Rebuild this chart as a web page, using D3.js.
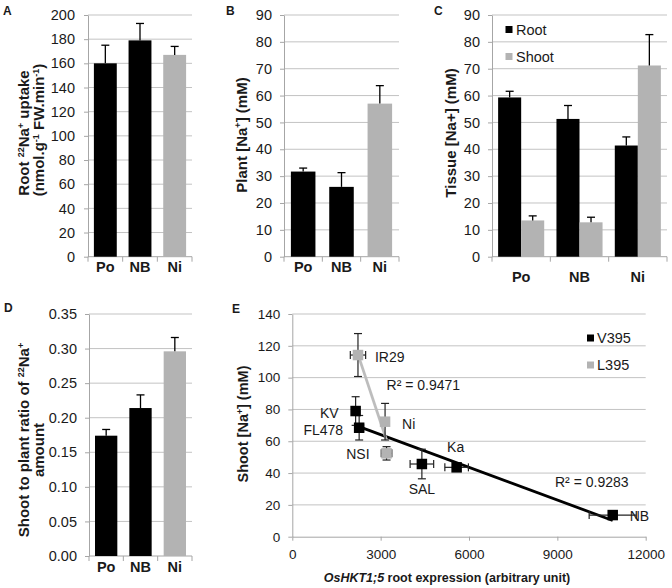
<!DOCTYPE html>
<html><head><meta charset="utf-8">
<script src="https://cdn.jsdelivr.net/npm/d3@7"></script>
<style>
body{margin:0;background:#fff}
text{font-family:"Liberation Sans",Arial,Helvetica,sans-serif}
</style>
</head><body><svg id="c" width="672" height="588"></svg>
<script>
// ---------- data ----------
const categories = ["Po","NB","Ni"];
const categoryAllele = ["V395","V395","L395"];

const uptakeA = [160,179,167];
const uptakeAErr = [15,14,7];
const ticksA = [0,20,40,60,80,100,120,140,160,180,200];

const plantNaB = [31.7,26,57];
const plantNaBErr = [1.3,5.3,6.7];
const ticksB = [0,10,20,30,40,50,60,70,80,90];

const tissueSeries = ["Root","Shoot"];
const rootNaC = [59.3,51.3,41.4];
const rootNaCErr = [2.3,5.0,3.2];
const shootNaC = [13.5,12.8,71.2];
const shootNaCErr = [1.7,1.9,11.5];
const ticksC = [0,10,20,30,40,50,60,70,80,90];

const ratioD = [0.174,0.214,0.296];
const ratioDErr = [0.009,0.019,0.020];
const ticksD = [0,0.05,0.10,0.15,0.20,0.25,0.30,0.35];

const cultivars = ["IR29","Ni","NSI","KV","FL478","SAL","Ka","NB"];
const cultivarAllele = ["L395","L395","L395","V395","V395","V395","V395","V395"];
const expressionE = [2230,3150,3200,2150,2270,4400,5580,10880];
const expressionEErr = [260,100,180,100,150,400,400,800];
const shootNaE = [114.2,72.3,52.4,79,68.5,45.7,43.6,13.6];
const shootNaEErr = [13.5,11.5,4.2,9,7.7,9.3,2,1.5];
const alleles = ["V395","L395"];
const rSquared = {V395:"R² = 0.9283", L395:"R² = 0.9471"};
const ticksEX = [0,3000,6000,9000,12000];
const ticksEY = [0,20,40,60,80,100,120,140];

// ---------- style ----------
const BLACK="#000", GRAY="#b3b3b3", GRID="#c3c3c3", AXIS="#a6a6a6", TXT="#1a1a1a";
const alleleColor = {V395:BLACK, L395:GRAY};
const svg = d3.select("#c");

function rich(sel, parts, size){
  let shift = 0;
  parts.forEach(p=>{
    const ts = sel.append("tspan").text(p.t);
    if(p.sup){ const tgt=-size*0.34; ts.attr("font-size",size*0.6).attr("dy",tgt-shift); shift=tgt; }
    else if(p.it){ ts.attr("font-style","italic"); if(shift){ts.attr("dy",-shift); shift=0;} }
    else if(shift){ ts.attr("dy",-shift); shift=0; }
  });
}

function yTitle(lines, size){
  lines.forEach(l=>{
    const t = svg.append("text").attr("transform",`translate(${l.x},${l.cy}) rotate(-90)`)
      .attr("text-anchor","middle").attr("font-weight","bold").attr("font-size",size).attr("fill",TXT);
    rich(t, l.parts, size);
  });
}

function letter(s,x,y){
  svg.append("text").attr("x",x).attr("y",y).attr("font-size",12).attr("font-weight","bold").attr("fill",TXT).text(s);
}

function barPanel(o){
  const g = svg.append("g");
  const x = d3.scaleBand().domain(categories).range([o.left,o.right]);
  const y = d3.scaleLinear().domain(d3.extent(o.ticks)).range([o.bottom,o.top]);
  g.append("g").selectAll("line").data(o.ticks.slice(1)).join("line")
    .attr("x1",o.left).attr("x2",o.right).attr("y1",d=>y(d)).attr("y2",d=>y(d))
    .attr("stroke",GRID);
  const ay = g.append("g").attr("transform",`translate(${o.left},0)`)
    .call(d3.axisLeft(y).tickValues(o.ticks).tickFormat(o.fmt).tickSize(4).tickSizeOuter(0).tickPadding(o.pad));
  ay.selectAll("path,line").attr("stroke",AXIS);
  ay.selectAll("text").attr("font-size",14.5).attr("fill",TXT).attr("font-family",'"Liberation Sans",Arial,sans-serif');
  g.append("line").attr("x1",o.left).attr("x2",o.right).attr("y1",o.bottom).attr("y2",o.bottom).attr("stroke",AXIS);
  const bounds = categories.map(c=>x(c)).concat([x.range()[1]]);
  g.append("g").selectAll("line").data(bounds).join("line")
    .attr("x1",d=>d).attr("x2",d=>d).attr("y1",o.bottom).attr("y2",o.bottom+5).attr("stroke",AXIS);
  g.append("g").selectAll("text").data(categories).join("text")
    .attr("x",d=>x(d)+x.bandwidth()/2).attr("y",o.bottom+o.catDy).attr("dy","0.35em")
    .attr("text-anchor","middle").attr("font-weight","bold").attr("font-size",14.5).attr("fill",TXT).text(d=>d);
  const bw = x.bandwidth()*o.barFrac;
  const n = o.series.length;
  o.series.forEach((s,si)=>{
    const bx = (c)=> x(c) + (x.bandwidth()-bw*n)/2 + si*bw;
    g.append("g").selectAll("rect").data(categories).join("rect")
      .attr("x",c=>bx(c)).attr("width",bw)
      .attr("y",(c,i)=>y(s.values[i])).attr("height",(c,i)=>y(0)-y(s.values[i]))
      .attr("fill",(c,i)=>s.color(i));
    const eg = g.append("g").attr("stroke","#000").attr("stroke-width",1.3);
    categories.forEach((c,i)=>{
      const cx = bx(c)+bw/2, v=s.values[i], e=s.errs[i];
      eg.append("line").attr("x1",cx).attr("x2",cx).attr("y1",y(v)).attr("y2",y(v+e));
      eg.append("line").attr("x1",cx-4).attr("x2",cx+4).attr("y1",y(v+e)).attr("y2",y(v+e));
    });
  });
  return {x,y};
}

// ---------- Panel A ----------
barPanel({left:88,right:192,top:15,bottom:256.7,ticks:ticksA,fmt:d3.format("d"),pad:9,catDy:10.5,barFrac:0.66,
  series:[{values:uptakeA,errs:uptakeAErr,color:i=>alleleColor[categoryAllele[i]]}]});
yTitle([
  {x:29,cy:133,parts:[{t:"Root "},{t:"22",sup:true},{t:"Na"},{t:"+",sup:true},{t:" uptake"}]},
  {x:44,cy:130,parts:[{t:"(nmol.g"},{t:"-1",sup:true},{t:" FW.min"},{t:"-1",sup:true},{t:")"}]}
],15);
letter("A",3,15);

// ---------- Panel B ----------
barPanel({left:284,right:399,top:15,bottom:256.7,ticks:ticksB,fmt:d3.format("d"),pad:8,catDy:10.5,barFrac:0.64,
  series:[{values:plantNaB,errs:plantNaBErr,color:i=>alleleColor[categoryAllele[i]]}]});
yTitle([{x:246.5,cy:135,parts:[{t:"Plant [Na"},{t:"+",sup:true},{t:"] (mM)"}]}],15);
letter("B",226,15);

// ---------- Panel C ----------
barPanel({left:492,right:667,top:15,bottom:256.7,ticks:ticksC,fmt:d3.format("d"),pad:8,catDy:20,barFrac:0.395,
  series:[{values:rootNaC,errs:rootNaCErr,color:()=>BLACK},{values:shootNaC,errs:shootNaCErr,color:()=>GRAY}]});
yTitle([{x:455.5,cy:133,parts:[{t:"Tissue [Na+] (mM)"}]}],15);
letter("C",434,15);
const legC = svg.append("g");
tissueSeries.forEach((s,i)=>{
  legC.append("rect").attr("x",505.5).attr("y",26+i*27).attr("width",7).attr("height",7).attr("fill",i?GRAY:BLACK);
  legC.append("text").attr("x",516).attr("y",29.5+i*27).attr("dy","0.35em").attr("font-size",14.5).attr("fill",TXT).text(s);
});

// ---------- Panel D ----------
barPanel({left:89,right:192,top:314,bottom:556,ticks:ticksD,fmt:d3.format(".2f"),pad:8,catDy:10.5,barFrac:0.65,
  series:[{values:ratioD,errs:ratioDErr,color:i=>alleleColor[categoryAllele[i]]}]});
yTitle([
  {x:29,cy:440,parts:[{t:"Shoot to plant ratio of "},{t:"22",sup:true},{t:"Na"},{t:"+",sup:true}]},
  {x:43.5,cy:450,parts:[{t:"amount"}]}
],15);
letter("D",4,312);

// ---------- Panel E ----------
const gE = svg.append("g");
const xE = d3.scaleLinear().domain(d3.extent(ticksEX)).range([292.3,645.7]);
const yE = d3.scaleLinear().domain(d3.extent(ticksEY)).range([536.7,314]);
gE.append("g").selectAll("line").data(ticksEY.slice(1)).join("line")
  .attr("x1",xE(0)).attr("x2",xE(12000)).attr("y1",d=>yE(d)).attr("y2",d=>yE(d)).attr("stroke",GRID);
const axEY = gE.append("g").attr("transform",`translate(${xE(0)},0)`)
  .call(d3.axisLeft(yE).tickValues(ticksEY).tickFormat(d3.format("d")).tickSize(4).tickSizeOuter(0).tickPadding(8));
const axEX = gE.append("g").attr("transform",`translate(0,${yE(0)})`)
  .call(d3.axisBottom(xE).tickValues(ticksEX).tickFormat(d3.format("d")).tickSize(4).tickSizeOuter(0).tickPadding(9));
[axEY,axEX].forEach(a=>{
  a.selectAll("path,line").attr("stroke",AXIS);
  a.selectAll("text").attr("font-size",13.5).attr("fill",TXT).attr("font-family",'"Liberation Sans",Arial,sans-serif');
});
yTitle([{x:248,cy:424,parts:[{t:"Shoot [Na"},{t:"+",sup:true},{t:"] (mM)"}]}],14.5);
const xt = svg.append("text").attr("x",447).attr("y",581.5).attr("text-anchor","middle")
  .attr("font-weight","bold").attr("font-size",12.5).attr("fill",TXT);
rich(xt,[{t:"OsHKT1;5",it:true},{t:" root expression (arbitrary unit)"}],12.5);
letter("E",232,313);

// trendlines (least squares per allele)
alleles.forEach(a=>{
  const idx = cultivars.map((c,i)=>i).filter(i=>cultivarAllele[i]===a);
  const xs = idx.map(i=>expressionE[i]), ys = idx.map(i=>shootNaE[i]);
  const mx=d3.mean(xs), my=d3.mean(ys);
  const slope = d3.sum(xs.map((v,k)=>(v-mx)*(ys[k]-my)))/d3.sum(xs.map(v=>(v-mx)*(v-mx)));
  const icpt = my - slope*mx;
  const [x0,x1] = d3.extent(xs);
  gE.append("line").attr("x1",xE(x0)).attr("x2",xE(x1)).attr("y1",yE(icpt+slope*x0)).attr("y2",yE(icpt+slope*x1))
    .attr("stroke",a==="V395"?BLACK:"#bdbdbd").attr("stroke-width",2.8);
});

// error bars
const ebE = gE.append("g").attr("stroke","#222").attr("stroke-width",1.2);
cultivars.forEach((c,i)=>{
  const px=xE(expressionE[i]), py=yE(shootNaE[i]);
  const yt=yE(shootNaE[i]+shootNaEErr[i]), yb=yE(shootNaE[i]-shootNaEErr[i]);
  const xl=xE(expressionE[i]-expressionEErr[i]), xr=xE(expressionE[i]+expressionEErr[i]);
  ebE.append("line").attr("x1",px).attr("x2",px).attr("y1",yt).attr("y2",yb);
  [yt,yb].forEach(v=>ebE.append("line").attr("x1",px-4).attr("x2",px+4).attr("y1",v).attr("y2",v));
  ebE.append("line").attr("x1",xl).attr("x2",xr).attr("y1",py).attr("y2",py);
  [xl,xr].forEach(v=>ebE.append("line").attr("x1",v).attr("x2",v).attr("y1",py-4).attr("y2",py+4));
});
// markers
gE.append("g").selectAll("rect").data(cultivars).join("rect")
  .attr("x",(c,i)=>xE(expressionE[i])-5.25).attr("y",(c,i)=>yE(shootNaE[i])-5.25)
  .attr("width",10.5).attr("height",10.5).attr("fill",(c,i)=>alleleColor[cultivarAllele[i]]);

// point labels (layout offsets)
const labelOffset = {IR29:[17,2,"start"],Ni:[17,2,"start"],NSI:[-17,1,"end"],KV:[-17,2,"end"],
  FL478:[-16,2,"end"],SAL:[0,25,"middle"],Ka:[-1,-20,"middle"],NB:[17,1,"start"]};
gE.append("g").selectAll("text").data(cultivars).join("text")
  .attr("x",(c,i)=>xE(expressionE[i])+labelOffset[c][0]).attr("y",(c,i)=>yE(shootNaE[i])+labelOffset[c][1])
  .attr("dy","0.35em").attr("text-anchor",c=>labelOffset[c][2]).attr("font-size",14).attr("fill",TXT).text(c=>c);

// R² labels (placed in data coordinates)
const rPos = {L395:[3200,95],V395:[8920,34.6]};
alleles.forEach(a=>{
  gE.append("text").attr("x",xE(rPos[a][0])).attr("y",yE(rPos[a][1])).attr("dy","0.35em")
    .attr("font-size",14).attr("fill",TXT).text(rSquared[a]);
});

// legend E
alleles.forEach((a,i)=>{
  gE.append("rect").attr("x",587).attr("y",334.5+i*27).attr("width",7).attr("height",7).attr("fill",alleleColor[a]);
  gE.append("text").attr("x",597).attr("y",338+i*27).attr("dy","0.35em").attr("font-size",14.5).attr("fill",TXT).text(a);
});
</script>
</body></html>
